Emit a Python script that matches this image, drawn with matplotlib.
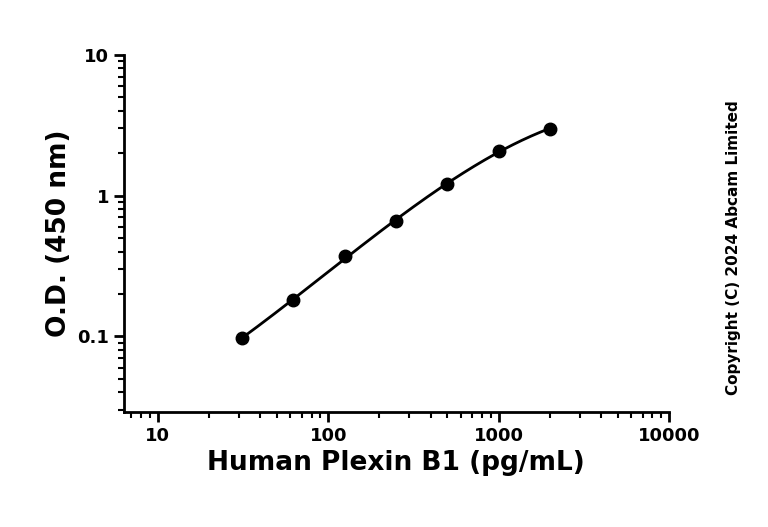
import numpy as np
import matplotlib
matplotlib.use("Agg")
import matplotlib.pyplot as plt
from matplotlib.ticker import LogLocator, FixedLocator, NullFormatter

conc = [31.25, 62.5, 125, 250, 500, 1000, 2000]
od = [0.098, 0.180, 0.372, 0.655, 1.21, 2.08, 2.98]
xticks = [10, 100, 1000, 10000]
xticklabels = ["10", "100", "1000", "10000"]
yticks = [0.1, 1, 10]
yticklabels = ["0.1", "1", "10"]

fig = plt.figure(figsize=(7.68, 5.27), dpi=100)
ax = fig.add_axes([0.161, 0.218, 0.71, 0.678])
ax.set_xscale("log"); ax.set_yscale("log")
ax.set_xlim(6.3, 10000); ax.set_ylim(0.029, 10)

lx = np.log10(conc); ly = np.log10(od)
c = np.polyfit(lx, ly, 3)
xs = np.linspace(lx[0], lx[-1], 200)
ax.plot(10**xs, 10**np.polyval(c, xs), color="black", lw=2)
ax.plot(conc, od, "o", color="black", ms=9)

for s in ["top", "right"]:
    ax.spines[s].set_visible(False)
for s in ["left", "bottom"]:
    ax.spines[s].set_linewidth(2)
ax.xaxis.set_major_locator(FixedLocator(xticks))
ax.set_xticklabels(xticklabels)
ax.yaxis.set_major_locator(FixedLocator(yticks))
ax.set_yticklabels(yticklabels)
for a in (ax.xaxis, ax.yaxis):
    a.set_minor_locator(LogLocator(base=10, subs=np.arange(2, 10)))
    a.set_minor_formatter(NullFormatter())
ax.tick_params(which="major", length=7, width=2, labelsize=13)
ax.tick_params(which="minor", length=4, width=1.5)
for t in ax.get_xticklabels() + ax.get_yticklabels():
    t.set_fontweight("bold")
ax.set_xlabel("Human Plexin B1 (pg/mL)", fontsize=19, fontweight="bold")
ax.set_ylabel("O.D. (450 nm)", fontsize=19, fontweight="bold")
fig.text(0.955, 0.53, "Copyright (C) 2024 Abcam Limited", rotation=90,
         ha="center", va="center", fontsize=11, fontweight="bold")
fig.savefig("out.png", dpi=100)
